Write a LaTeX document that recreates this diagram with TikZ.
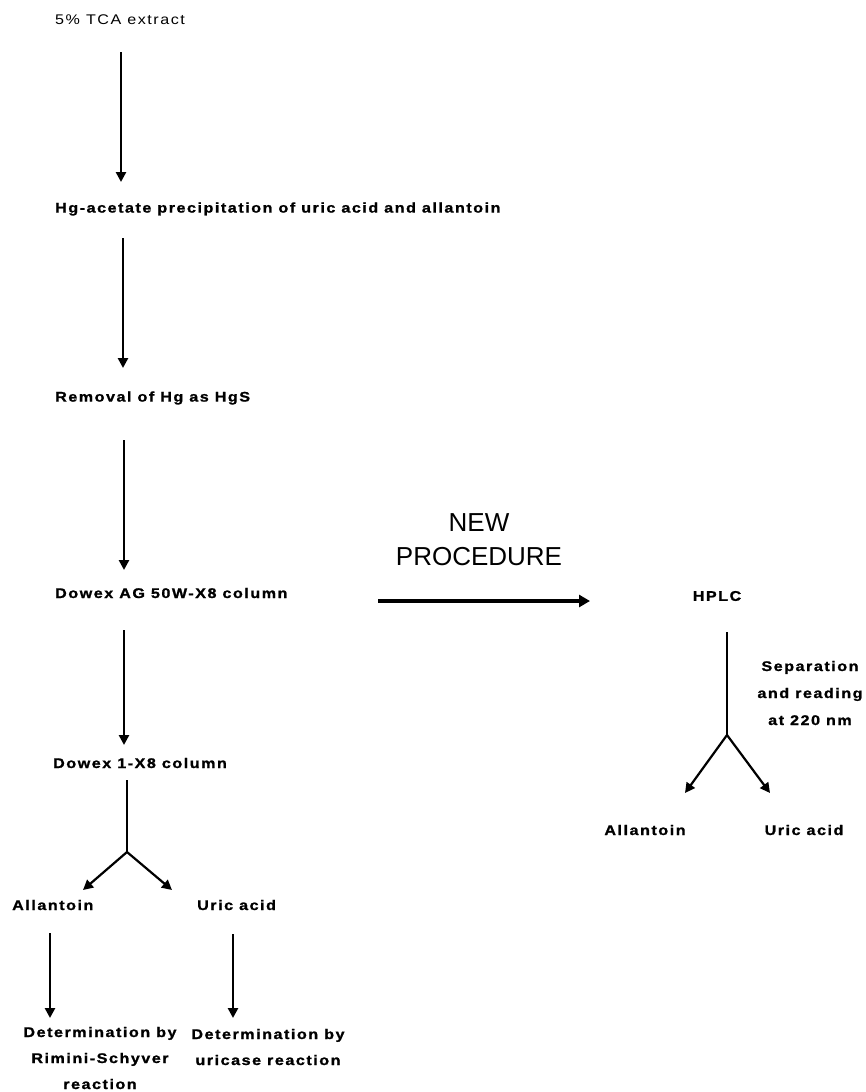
\documentclass[tikz,border=0pt]{standalone}
\usepackage{fontspec}
\setmainfont{Liberation Sans}
\newfontfamily\labfont[LetterSpace=11,FakeStretch=1.15,BoldFeatures={FakeBold=1.2}]{Liberation Sans}
\usetikzlibrary{arrows.meta}
\begin{document}
\begin{tikzpicture}[x=1pt,y=-1pt,
  lbl/.style={font=\labfont\bfseries\fontsize{14}{26}\selectfont, inner sep=0pt},
  lblr/.style={font=\labfont\fontsize{14}{26}\selectfont, inner sep=0pt},
  big/.style={font=\fontsize{26}{34}\selectfont, inner sep=0pt, align=center},
  varr/.style={line width=2.6pt, -{Triangle[width=10pt,length=10pt]}},
  barr/.style={line width=2.2pt, line join=miter, -{Triangle[width=10pt,length=10pt]}},
  stem/.style={line width=2.2pt},
  thinstem/.style={line width=1.6pt},
  bigarr/.style={line width=4.5pt, -{Triangle[width=12pt,length=11pt]}}]
\useasboundingbox (0,0) rectangle (866,1092);
% left column texts
\node[lblr, anchor=west] (n1) at (55,20) {5\% TCA extract};
\node[lbl, anchor=west] (n2) at (55,209) {Hg-acetate precipitation of uric acid and allantoin};
\node[lbl, anchor=west] (n3) at (55,398) {Removal of Hg as HgS};
\node[lbl, anchor=west] (n4) at (55,593) {Dowex AG 50W-X8 column};
\node[lbl, anchor=west] (n5) at (53,763) {Dowex 1-X8 column};
\node[lbl, anchor=west] (al1) at (12,905) {Allantoin};
\node[lbl, anchor=west] (ua1) at (197,905) {Uric acid};
\node[lbl, align=center] (det1) at (100,1058) {Determination by\\Rimini-Schyver\\reaction};
\node[lbl, align=center] (det2) at (268,1047) {Determination by\\uricase reaction};
% right side texts
\node[big] (np) at (479,540) {NEW\\PROCEDURE};
\node[lbl] (hplc) at (717,596) {HPLC};
\node[lbl, align=center, font=\labfont\bfseries\fontsize{14}{27}\selectfont] (sep) at (810,693) {Separation\\and reading\\at 220 nm};
\node[lbl] (al2) at (645,830) {Allantoin};
\node[lbl] (ua2) at (804,830) {Uric acid};
% connector end points
\coordinate (a1s) at (121,52);  \coordinate (a1e) at (121,182);
\coordinate (a2s) at (123,238); \coordinate (a2e) at (123,368);
\coordinate (a3s) at (124,440); \coordinate (a3e) at (124,570);
\coordinate (a4s) at (124,630); \coordinate (a4e) at (124,745);
\coordinate (b1s) at (127,780); \coordinate (b1m) at (127,852);
\coordinate (b1l) at (83,890);  \coordinate (b1r) at (172,890);
\coordinate (c1s) at (50,933);  \coordinate (c1e) at (50,1018);
\coordinate (c2s) at (233,934); \coordinate (c2e) at (233,1018);
\coordinate (bs) at (378,601);  \coordinate (be) at (590,601);
\coordinate (hs) at (727,632);  \coordinate (hm) at (727,735);
\coordinate (hl) at (685,793);  \coordinate (hr) at (770,793);
% connectors
\draw[varr] (a1s) -- (a1e);
\draw[varr] (a2s) -- (a2e);
\draw[varr] (a3s) -- (a3e);
\draw[varr] (a4s) -- (a4e);
\draw[stem] (b1s) -- (b1m);
\draw[barr] (b1m) -- (b1l);
\draw[barr] (b1m) -- (b1r);
\draw[varr] (c1s) -- (c1e);
\draw[varr] (c2s) -- (c2e);
\draw[bigarr] (bs) -- (be);
\draw[thinstem] (hs) -- (hm);
\draw[barr] (hm) -- (hl);
\draw[barr] (hm) -- (hr);
\end{tikzpicture}
\end{document}
